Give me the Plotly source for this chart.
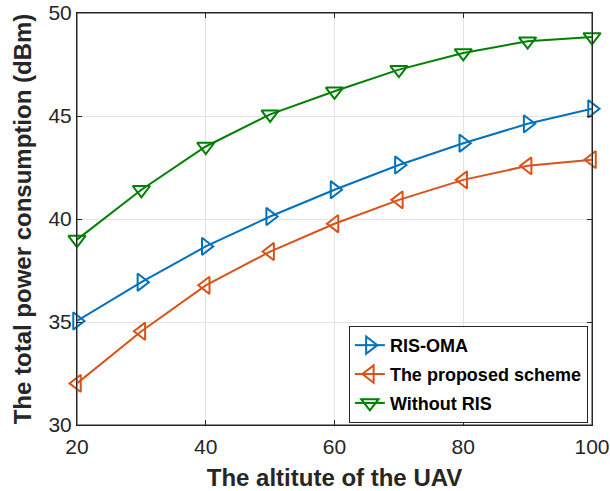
import plotly.graph_objects as go

altitude = [20, 30, 40, 50, 60, 70, 80, 90, 100]
ris_oma = [35.05, 36.93, 38.67, 40.12, 41.42, 42.62, 43.68, 44.62, 45.35]
proposed = [32.02, 34.55, 36.78, 38.42, 39.77, 40.93, 41.9, 42.58, 42.88]
without_ris = [39.0, 41.42, 43.52, 45.08, 46.2, 47.25, 48.06, 48.63, 48.84]
y_ticks = [30, 35, 40, 45, 50]
x_ticks = [20, 40, 60, 80, 100]

series = [
    ("RIS-OMA", ris_oma, "#0072BD", "triangle-right-open"),
    ("The proposed scheme", proposed, "#D95319", "triangle-left-open"),
    ("Without RIS", without_ris, "#008000", "triangle-down-open"),
]

FONT = "Liberation Sans, Arial"

fig = go.Figure()
for name, vals, color, sym in series:
    fig.add_trace(go.Scatter(
        x=altitude, y=vals, name="<b>" + name + "</b>", mode="lines+markers",
        legendgroup=name,
        line=dict(color=color, width=2),
        marker=dict(symbol=sym, size=15, color=color, line=dict(width=2, color=color)),
        cliponaxis=False,
    ))

axis_common = dict(
    showline=True, linecolor="#262626", linewidth=1, mirror="ticks",
    ticks="inside", ticklen=5, tickcolor="#262626",
    showgrid=True, gridcolor="#E3E3E3", gridwidth=1, zeroline=False,
    automargin=False, ticklabeloverflow="allow",
    tickfont=dict(family=FONT, size=21, color="#262626"),
)

fig.update_layout(
    width=610, height=491,
    margin=dict(l=77, r=18, t=13, b=66),
    paper_bgcolor="white", plot_bgcolor="white",
    xaxis=dict(range=[20, 100], tickvals=x_ticks, ticklabelstandoff=3,
               title=dict(text="<b>The altitute of the UAV</b>", standoff=12,
                          font=dict(family=FONT, size=24, color="#262626")),
               **axis_common),
    yaxis=dict(range=[30, 50], tickvals=y_ticks,
               title=dict(text="<b>The total power consumption (dBm)</b>", standoff=10,
                          font=dict(family=FONT, size=24, color="#262626")),
               **axis_common),
    legend=dict(x=0.992, y=0.005, xanchor="right", yanchor="bottom",
                bgcolor="white", bordercolor="#262626", borderwidth=1,
                font=dict(family=FONT, size=18, color="black"),
                itemwidth=30, tracegroupgap=2.5),
    shapes=[dict(type="rect", xref="paper", yref="paper", x0=0, x1=1, y0=0, y1=1,
                 line=dict(color="#262626", width=1), layer="below")],
    showlegend=True,
)

# remove the default 8px page margin so the figure fills the window exactly
fig.write_html("out.html", config={"displayModeBar": False},
               post_script="document.body.style.margin='0';document.body.style.overflow='hidden';")
